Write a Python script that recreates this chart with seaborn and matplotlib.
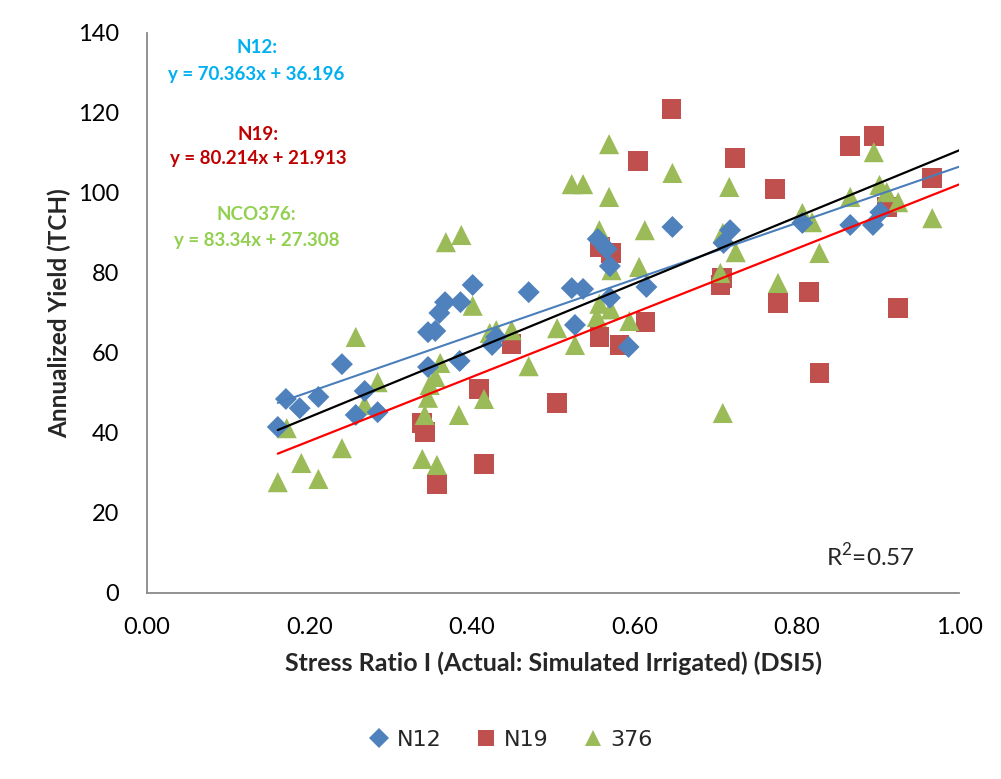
import matplotlib
matplotlib.use('Agg')
import matplotlib.pyplot as plt
from matplotlib.lines import Line2D
import seaborn as sns
import pandas as pd
import numpy as np

# ---- data ----
n12_x = [0.161, 0.171, 0.188, 0.211, 0.240, 0.257, 0.268, 0.284, 0.346, 0.346,
         0.355, 0.360, 0.367, 0.385, 0.386, 0.401, 0.425, 0.430, 0.470, 0.523,
         0.527, 0.537, 0.555, 0.566, 0.570, 0.570, 0.593, 0.615, 0.647, 0.710,
         0.718, 0.807, 0.866, 0.894, 0.903]
n12_y = [41.5, 48.5, 46.2, 49.0, 57.2, 44.5, 50.5, 45.2, 56.5, 65.2,
         65.5, 70.0, 72.7, 58.0, 72.7, 77.0, 62.0, 64.0, 75.2, 76.2,
         67.0, 76.0, 88.5, 86.0, 81.7, 73.8, 61.5, 76.5, 91.5, 87.5,
         90.7, 92.5, 92.0, 92.0, 95.2]

n19_x = [0.339, 0.342, 0.357, 0.409, 0.415, 0.449, 0.505, 0.557, 0.558, 0.571,
         0.582, 0.605, 0.614, 0.646, 0.706, 0.708, 0.724, 0.773, 0.777, 0.815,
         0.828, 0.866, 0.895, 0.911, 0.925, 0.967]
n19_y = [42.5, 40.2, 27.2, 51.0, 32.2, 62.2, 47.5, 64.0, 86.5, 85.0,
         62.0, 108.0, 67.7, 121.0, 77.0, 78.7, 108.7, 101.0, 72.5, 75.2,
         55.0, 111.7, 114.2, 96.5, 71.2, 103.7]

nco_x = [0.161, 0.172, 0.190, 0.211, 0.240, 0.257, 0.268, 0.284, 0.339, 0.342,
         0.346, 0.348, 0.355, 0.357, 0.361, 0.368, 0.384, 0.387, 0.401, 0.415,
         0.422, 0.430, 0.449, 0.470, 0.505, 0.523, 0.527, 0.537, 0.554, 0.557,
         0.557, 0.569, 0.569, 0.571, 0.572, 0.594, 0.606, 0.613, 0.647, 0.706,
         0.709, 0.709, 0.717, 0.725, 0.777, 0.807, 0.819, 0.828, 0.866, 0.895,
         0.902, 0.911, 0.925, 0.967]
nco_y = [27.7, 41.2, 32.5, 28.5, 36.2, 64.0, 47.0, 52.7, 33.5, 44.5,
         48.8, 52.0, 54.0, 32.0, 57.5, 87.7, 44.5, 89.5, 71.8, 48.5,
         65.0, 65.7, 65.7, 56.7, 66.2, 102.2, 62.0, 102.2, 69.0, 72.3,
         90.7, 99.0, 112.2, 70.9, 80.7, 68.0, 81.5, 90.7, 105.0, 80.0,
         45.0, 90.0, 101.5, 85.2, 77.5, 95.0, 92.7, 85.0, 99.0, 110.2,
         102.0, 100.2, 97.7, 93.7]

# trendline coefficients (slope, intercept) as printed on the chart
n12_fit = (70.363, 36.196)
n19_fit = (80.214, 21.913)
nco_fit = (83.34, 27.308)
r2_text = 'R$^2$=0.57'

# ---- style ----
sns.set_style('white')
plt.rcParams['font.family'] = ['Lato', 'DejaVu Sans']
plt.rcParams['mathtext.fontset'] = 'custom'
plt.rcParams['mathtext.rm'] = 'Lato'
axis_grey = '#898989'

fig = plt.figure(figsize=(10.01, 7.79), dpi=100)
ax = fig.add_axes([0.1469, 0.2388, 0.8112, 0.7189])

df = pd.concat([
    pd.DataFrame({'x': n12_x, 'y': n12_y, 'series': 'N12'}),
    pd.DataFrame({'x': n19_x, 'y': n19_y, 'series': 'N19'}),
    pd.DataFrame({'x': nco_x, 'y': nco_y, 'series': '376'}),
])

styles = {
    'N12': dict(marker='D', color='#4F81BD', s=125),
    'N19': dict(marker='s', color='#C0504D', s=200),
    '376': dict(marker='^', color='#9BBB59', s=210),
}

# draw order: squares under triangles under diamonds
for name in ['N19', '376', 'N12']:
    st = styles[name]
    sns.scatterplot(data=df[df['series'] == name], x='x', y='y', ax=ax,
                    marker=st['marker'], color=st['color'], s=st['s'],
                    edgecolor='none', linewidth=0, zorder=2, legend=False)

# trendlines
x_line = np.array([df['x'].min(), 1.0])
for (m, b), col, lw in [(n12_fit, '#4A7EBB', 1.5), (n19_fit, '#FF0000', 1.6), (nco_fit, '#000000', 1.6)]:
    ax.plot(x_line, m * x_line + b, color=col, lw=lw, zorder=3)

ax.set_xlim(0, 1.0)
ax.set_ylim(0, 140)
ax.set_xticks(np.arange(0, 1.01, 0.2))
ax.set_yticks(np.arange(0, 141, 20))
ax.set_xticklabels([f'{v:.2f}' for v in np.arange(0, 1.01, 0.2)])

sns.despine(ax=ax)
for sp in ['left', 'bottom']:
    ax.spines[sp].set_color(axis_grey)
    ax.spines[sp].set_linewidth(1.3)
ax.tick_params(axis='both', direction='out', length=6, width=1.3, color=axis_grey,
               labelsize=17, labelcolor='black')
ax.tick_params(axis='y', pad=14)
ax.tick_params(axis='x', pad=11)

ax.set_xlabel('Stress Ratio I (Actual: Simulated Irrigated) (DSI5)', fontsize=18,
              fontweight='bold', labelpad=10)
ax.set_ylabel('Annualized Yield (TCH)', fontsize=17.5, fontweight='bold', labelpad=5)

# equations
eq_kw = dict(ha='center', va='center', fontsize=13.5, fontweight='bold')
ax.text(0.135, 136.3, 'N12:', color='#00B0F0', **eq_kw)
ax.text(0.135, 129.5, f'y = {n12_fit[0]}x + {n12_fit[1]}', color='#00B0F0', **eq_kw)
ax.text(0.137, 114.5, 'N19:', color='#C00000', **eq_kw)
ax.text(0.137, 108.7, f'y = {n19_fit[0]}x + {n19_fit[1]}', color='#C00000', **eq_kw)
ax.text(0.135, 94.7, 'NCO376:', color='#92D050', **eq_kw)
ax.text(0.135, 88.0, f'y = {nco_fit[0]}x + {nco_fit[1]}', color='#92D050', **eq_kw)

ax.text(0.836, 9.3, r2_text, ha='left', va='center', fontsize=17.5)

# legend at bottom
handles = [Line2D([], [], ls='none', marker=styles[n]['marker'], color=styles[n]['color'],
                  markersize=12 if n != 'N12' else 10, markeredgewidth=0)
           for n in ['N12', 'N19', '376']]
fig.legend(handles, ['N12', 'N19', '376'], loc='center', bbox_to_anchor=(0.51, 0.05),
           ncol=3, frameon=False, handletextpad=0.3, columnspacing=1.5,
           handlelength=1.0, prop={'family': 'DejaVu Sans', 'size': 16})

fig.savefig('out.png', dpi=100)
